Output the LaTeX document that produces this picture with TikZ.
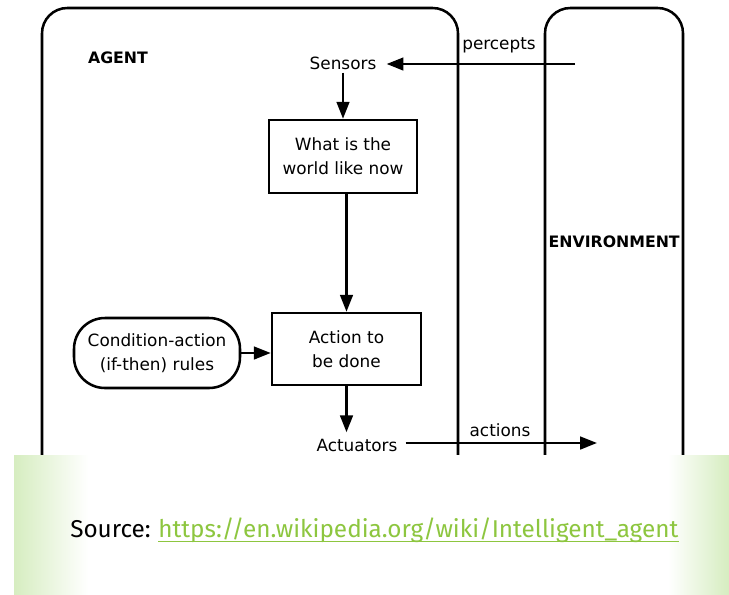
\documentclass[tikz,border=0pt]{standalone}
\usepackage{fontspec}
\setmainfont{DejaVu Sans}
\newfontfamily\srcfont{Fira Sans}
\usetikzlibrary{arrows.meta}
\definecolor{bandgreen}{RGB}{214,237,192}
\definecolor{linkgreen}{RGB}{141,198,63}
\tikzset{
    wire/.style={line width=1.8pt, -{Triangle[length=12pt, width=9pt]}},
    frame/.style={line width=1.8pt, rounded corners=18pt},
    block/.style={draw, line width=1.8pt, align=center, inner sep=0pt},
    lbl/.style={font=\fontsize{12}{17}\selectfont, align=center, inner sep=0pt},
    title/.style={font=\fontsize{11.2}{14}\selectfont\bfseries, inner sep=0pt},
}

\begin{document}
\begin{tikzpicture}[x=0.025cm, y=-0.025cm]
        \useasboundingbox (0, 0) rectangle (729, 594);
        % Frames:
        \draw[frame] (42, 455) -- (42, 8) -- (458, 8) -- (458, 455);
        \draw[frame] (545, 455) -- (545, 8) -- (683, 8) -- (683, 455);
        \node[title] (agent) at (118, 58){AGENT};
        \node[title, anchor=east] (env) at (680, 242){ENVIRONMENT};
        % Nodes:
        \node[lbl] (sensors) at (343, 63){Sensors};
        \node[block, lbl, minimum width=148*0.025cm, minimum height=73*0.025cm] (world) at (343, 156.5){What is the\\world like now};
        \node[block, lbl, minimum width=149*0.025cm, minimum height=72*0.025cm] (action) at (346.5, 349){Action to\\be done};
        \node[block, lbl, rounded corners=22pt, minimum width=166*0.025cm, minimum height=70*0.025cm] (rules) at (157, 353){Condition-action\\(if-then) rules};
        \node[lbl] (actuators) at (357, 445){Actuators};
        \node[lbl] (percepts) at (499, 45){percepts};
        \node[lbl] (actions) at (500, 430){actions};
        \coordinate (envout) at (575, 64);
        \coordinate (envin) at (597, 443);
        % Wires:
        \draw[wire] (envout) -- ([xshift=10*0.025cm]sensors.east |- envout);
        \draw[wire] (sensors.south) ++(0, 3) -- (world.north -| sensors.south);
        \draw[wire] (world.south -| action.north) -- (action.north);
        \draw[wire] (rules.east) -- (action.west |- rules.east);
        \draw[wire] (action.south) -- ++(0, 46);
        \draw[wire] (actuators.east) ++(8, -2) -- (envin);
        % Source band:
        \fill[white] (14, 455) rectangle (729, 594);
        \shade[left color=bandgreen, right color=white] (14, 455) rectangle (88, 594);
        \shade[left color=white, right color=bandgreen] (668, 455) rectangle (729, 594);
        \node[font=\srcfont\fontsize{17.3}{20}\selectfont, inner sep=0pt, anchor=base west] (source) at (70, 537){Source:};
        \node[font=\srcfont\fontsize{17.3}{20}\selectfont, text=linkgreen, inner sep=0pt, anchor=base west] (link) at ([xshift=5pt]source.base east){https://en.wikipedia.org/wiki/Intelligent\_agent};
        \draw[linkgreen, line width=0.9pt] ([yshift=-3.2pt]link.base west) -- ([yshift=-3.2pt]link.base east);
    \end{tikzpicture}
\end{document}
